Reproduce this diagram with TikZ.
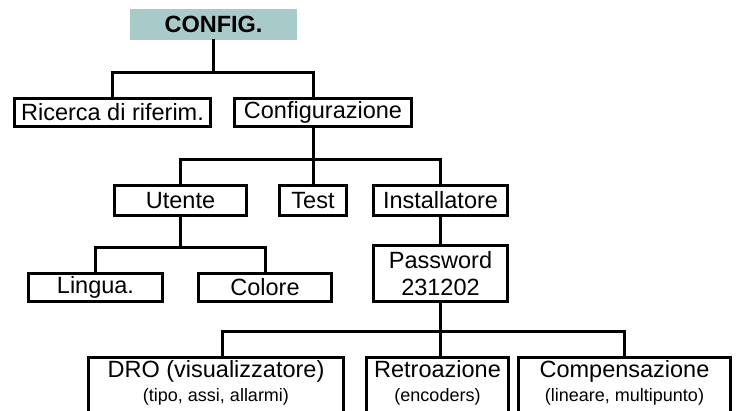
\documentclass[tikz,border=0pt]{standalone}
\usepackage{fontspec}
\setmainfont{Liberation Sans}
\usepackage{tikz}
\definecolor{configteal}{RGB}{168,202,200}
\newcommand{\subfont}{\fontsize{18}{24}\selectfont}

\begin{document}
\begin{tikzpicture}[x=1pt, y=-1pt,
		box/.style={draw=black, line width=3pt, inner sep=2pt, font=\fontsize{23.5}{27}\selectfont},
		lowbox/.style={box, anchor=north, align=center, inner ysep=3pt, text depth=50pt, font=\fontsize{23.5}{24}\selectfont},
		conn/.style={line width=3pt, line cap=rect}]
			\useasboundingbox (0,0) rectangle (737,411);
			\clip (0,0) rectangle (737,411);
			
			% Nodes
			\node[fill=configteal, minimum width=167pt, minimum height=31pt, inner sep=0pt, font=\fontsize{23.5}{27}\selectfont\bfseries] (config) at (213.5,24.5) {CONFIG.};
			
			\node[box, minimum width=196pt, minimum height=28pt] (ricerca) at (112.5,112.5) {Ricerca di riferim.};
			\node[box, minimum width=177pt, minimum height=28pt] (conf) at (323,112.5) {Configurazione};
			
			\node[box, minimum width=132pt, minimum height=30pt] (utente) at (180.5,200.5) {Utente};
			\node[box, minimum width=67pt, minimum height=30pt] (test) at (313,200.5) {Test};
			\node[box, minimum width=134pt, minimum height=30pt] (install) at (440.5,200.5) {Installatore};
			
			\node[box, minimum width=134pt, minimum height=28pt] (lingua) at (95.5,287.5) {Lingua.};
			\node[box, minimum width=133pt, minimum height=28pt] (colore) at (265,287.5) {Colore};
			\node[box, align=center, minimum width=134pt, minimum height=56pt] (password) at (440.5,273.5) {Password\\231202};
			
			\node[lowbox, minimum width=255pt] (dro) at (216,356) {DRO (visualizzatore)\\{\subfont (tipo, assi, allarmi)}};
			\node[lowbox, minimum width=142pt] (retro) at (437.5,356) {Retroazione\\{\subfont (encoders)}};
			\node[lowbox, minimum width=212pt] (comp) at (624.5,356) {Compensazione\\{\subfont (lineare, multipunto)}};
			
			% Edges
			\draw[conn] (config.south) -- ++(0,32) -| (ricerca.north);
			\draw[conn] (config.south) ++(0,32) -| ([xshift=-10pt]conf.north);
			
			\draw[conn] ([xshift=-10pt]conf.south) -- ++(0,32) -| (utente.north);
			\draw[conn] ([xshift=-10pt]conf.south) -- (test.north);
			\draw[conn] ([xshift=-10pt]conf.south) ++(0,32) -| (install.north);
			
			\draw[conn] (utente.south) -- ++(0,31) -| (lingua.north);
			\draw[conn] (utente.south) ++(0,31) -| (colore.north);
			\draw[conn] (install.south) -- (password.north);
			
			\draw[conn] (password.south) -- ++(0,29) -| ([xshift=6pt]dro.north);
			\draw[conn] (password.south) -- (password.south |- retro.north);
			\draw[conn] (password.south) ++(0,29) -| (comp.north);
		\end{tikzpicture}
\end{document}
